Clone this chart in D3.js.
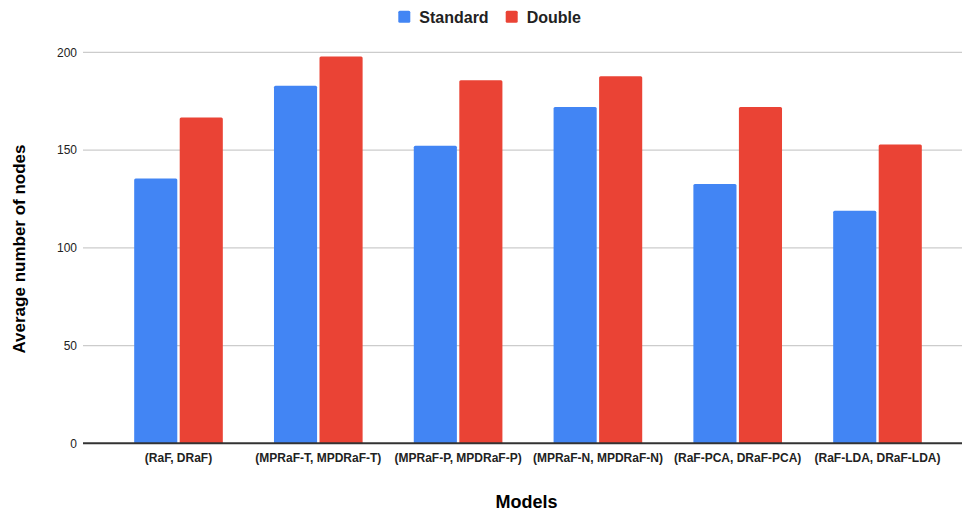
<!DOCTYPE html>
<html>
<head>
<meta charset="utf-8">
<script src="https://cdn.jsdelivr.net/npm/d3@7"></script>
<style>
  body { margin: 0; background: #fff; }
  svg { display: block; font-family: "Liberation Sans", Arial, sans-serif; }
</style>
</head>
<body>
<svg id="chart" width="962" height="515"></svg>
<script>
const categories = ["(RaF, DRaF)", "(MPRaF-T, MPDRaF-T)", "(MPRaF-P, MPDRaF-P)", "(MPRaF-N, MPDRaF-N)", "(RaF-PCA, DRaF-PCA)", "(RaF-LDA, DRaF-LDA)"];
const seriesNames = ["Standard", "Double"];
const standardValues = [135.5, 182.9, 152.2, 172.0, 132.6, 119.0];
const doubleValues = [166.7, 197.9, 185.7, 187.7, 172.0, 152.9];
const yTicks = [0, 50, 100, 150, 200];
const colors = ["#4285F4", "#EA4335"];

const svg = d3.select("#chart");
const plotLeft = 83, plotRight = 962, plotTop = 52.3, plotBottom = 443.3;

const y = d3.scaleLinear().domain([0, 200]).range([plotBottom, plotTop]);
const x0 = d3.scaleBand().domain(categories).range([108.6, 947.4]).paddingInner(0.366).paddingOuter(0.183);
const x1 = d3.scaleBand().domain(seriesNames).range([0, x0.bandwidth()]).paddingInner(0.053);

// gridlines
svg.append("g").selectAll("line").data(yTicks.filter(d => d !== 0)).join("line")
  .attr("x1", plotLeft).attr("x2", plotRight)
  .attr("y1", d => y(d)).attr("y2", d => y(d))
  .attr("stroke", "#cccccc").attr("stroke-width", 1.3);

// y tick labels
const yAxis = d3.axisLeft(y).tickValues(yTicks).tickSize(0).tickPadding(0);
const yg = svg.append("g").attr("transform", `translate(77,0)`).call(yAxis);
yg.select(".domain").remove();
yg.selectAll("text").attr("font-size", 12).attr("fill", "#222").attr("font-family", "Liberation Sans, Arial, sans-serif");

// bars
const data = categories.map((c, i) => ({ cat: c, vals: [standardValues[i], doubleValues[i]] }));
const groups = svg.append("g").selectAll("g").data(data).join("g")
  .attr("transform", d => `translate(${x0(d.cat)},0)`);
groups.selectAll("path").data(d => d.vals.map((v, j) => ({ name: seriesNames[j], v, j }))).join("path")
  .attr("fill", d => colors[d.j])
  .attr("d", d => {
    const xl = x1(d.name), w = x1.bandwidth(), yt = y(d.v), yb = y(0), r = 1.5;
    return `M${xl},${yb}V${yt + r}Q${xl},${yt} ${xl + r},${yt}H${xl + w - r}Q${xl + w},${yt} ${xl + w},${yt + r}V${yb}Z`;
  });

// baseline
svg.append("line").attr("x1", plotLeft).attr("x2", plotRight)
  .attr("y1", y(0)).attr("y2", y(0)).attr("stroke", "#333").attr("stroke-width", 2);

// x tick labels
const xAxis = d3.axisBottom(x0).tickSize(0).tickPadding(0);
const xg = svg.append("g").attr("transform", `translate(0,0)`).call(xAxis);
xg.select(".domain").remove();
xg.selectAll("text").attr("y", 462).attr("dy", null)
  .attr("font-size", 12).attr("font-weight", "bold").attr("fill", "#222")
  .attr("font-family", "Liberation Sans, Arial, sans-serif");

// axis titles
svg.append("text").attr("x", (plotLeft + plotRight) / 2 + 4).attr("y", 508)
  .attr("text-anchor", "middle").attr("font-size", 18).attr("font-weight", "bold").attr("fill", "#000")
  .text("Models");
svg.append("text").attr("transform", `translate(25,249) rotate(-90)`)
  .attr("text-anchor", "middle").attr("font-size", 17).attr("font-weight", "bold").attr("fill", "#000")
  .text("Average number of nodes");

// legend
const legendX = [398.3, 505.7];
const leg = svg.append("g").selectAll("g").data(seriesNames).join("g")
  .attr("transform", (d, i) => `translate(${legendX[i]},0)`);
leg.append("rect").attr("x", 0).attr("y", 10.8).attr("width", 12).attr("height", 12).attr("rx", 1.5)
  .attr("fill", (d, i) => colors[i]);
leg.append("text").attr("x", 21).attr("y", 22.7).attr("font-size", 16).attr("font-weight", "bold")
  .attr("fill", "#222").text(d => d);
</script>
</body>
</html>
